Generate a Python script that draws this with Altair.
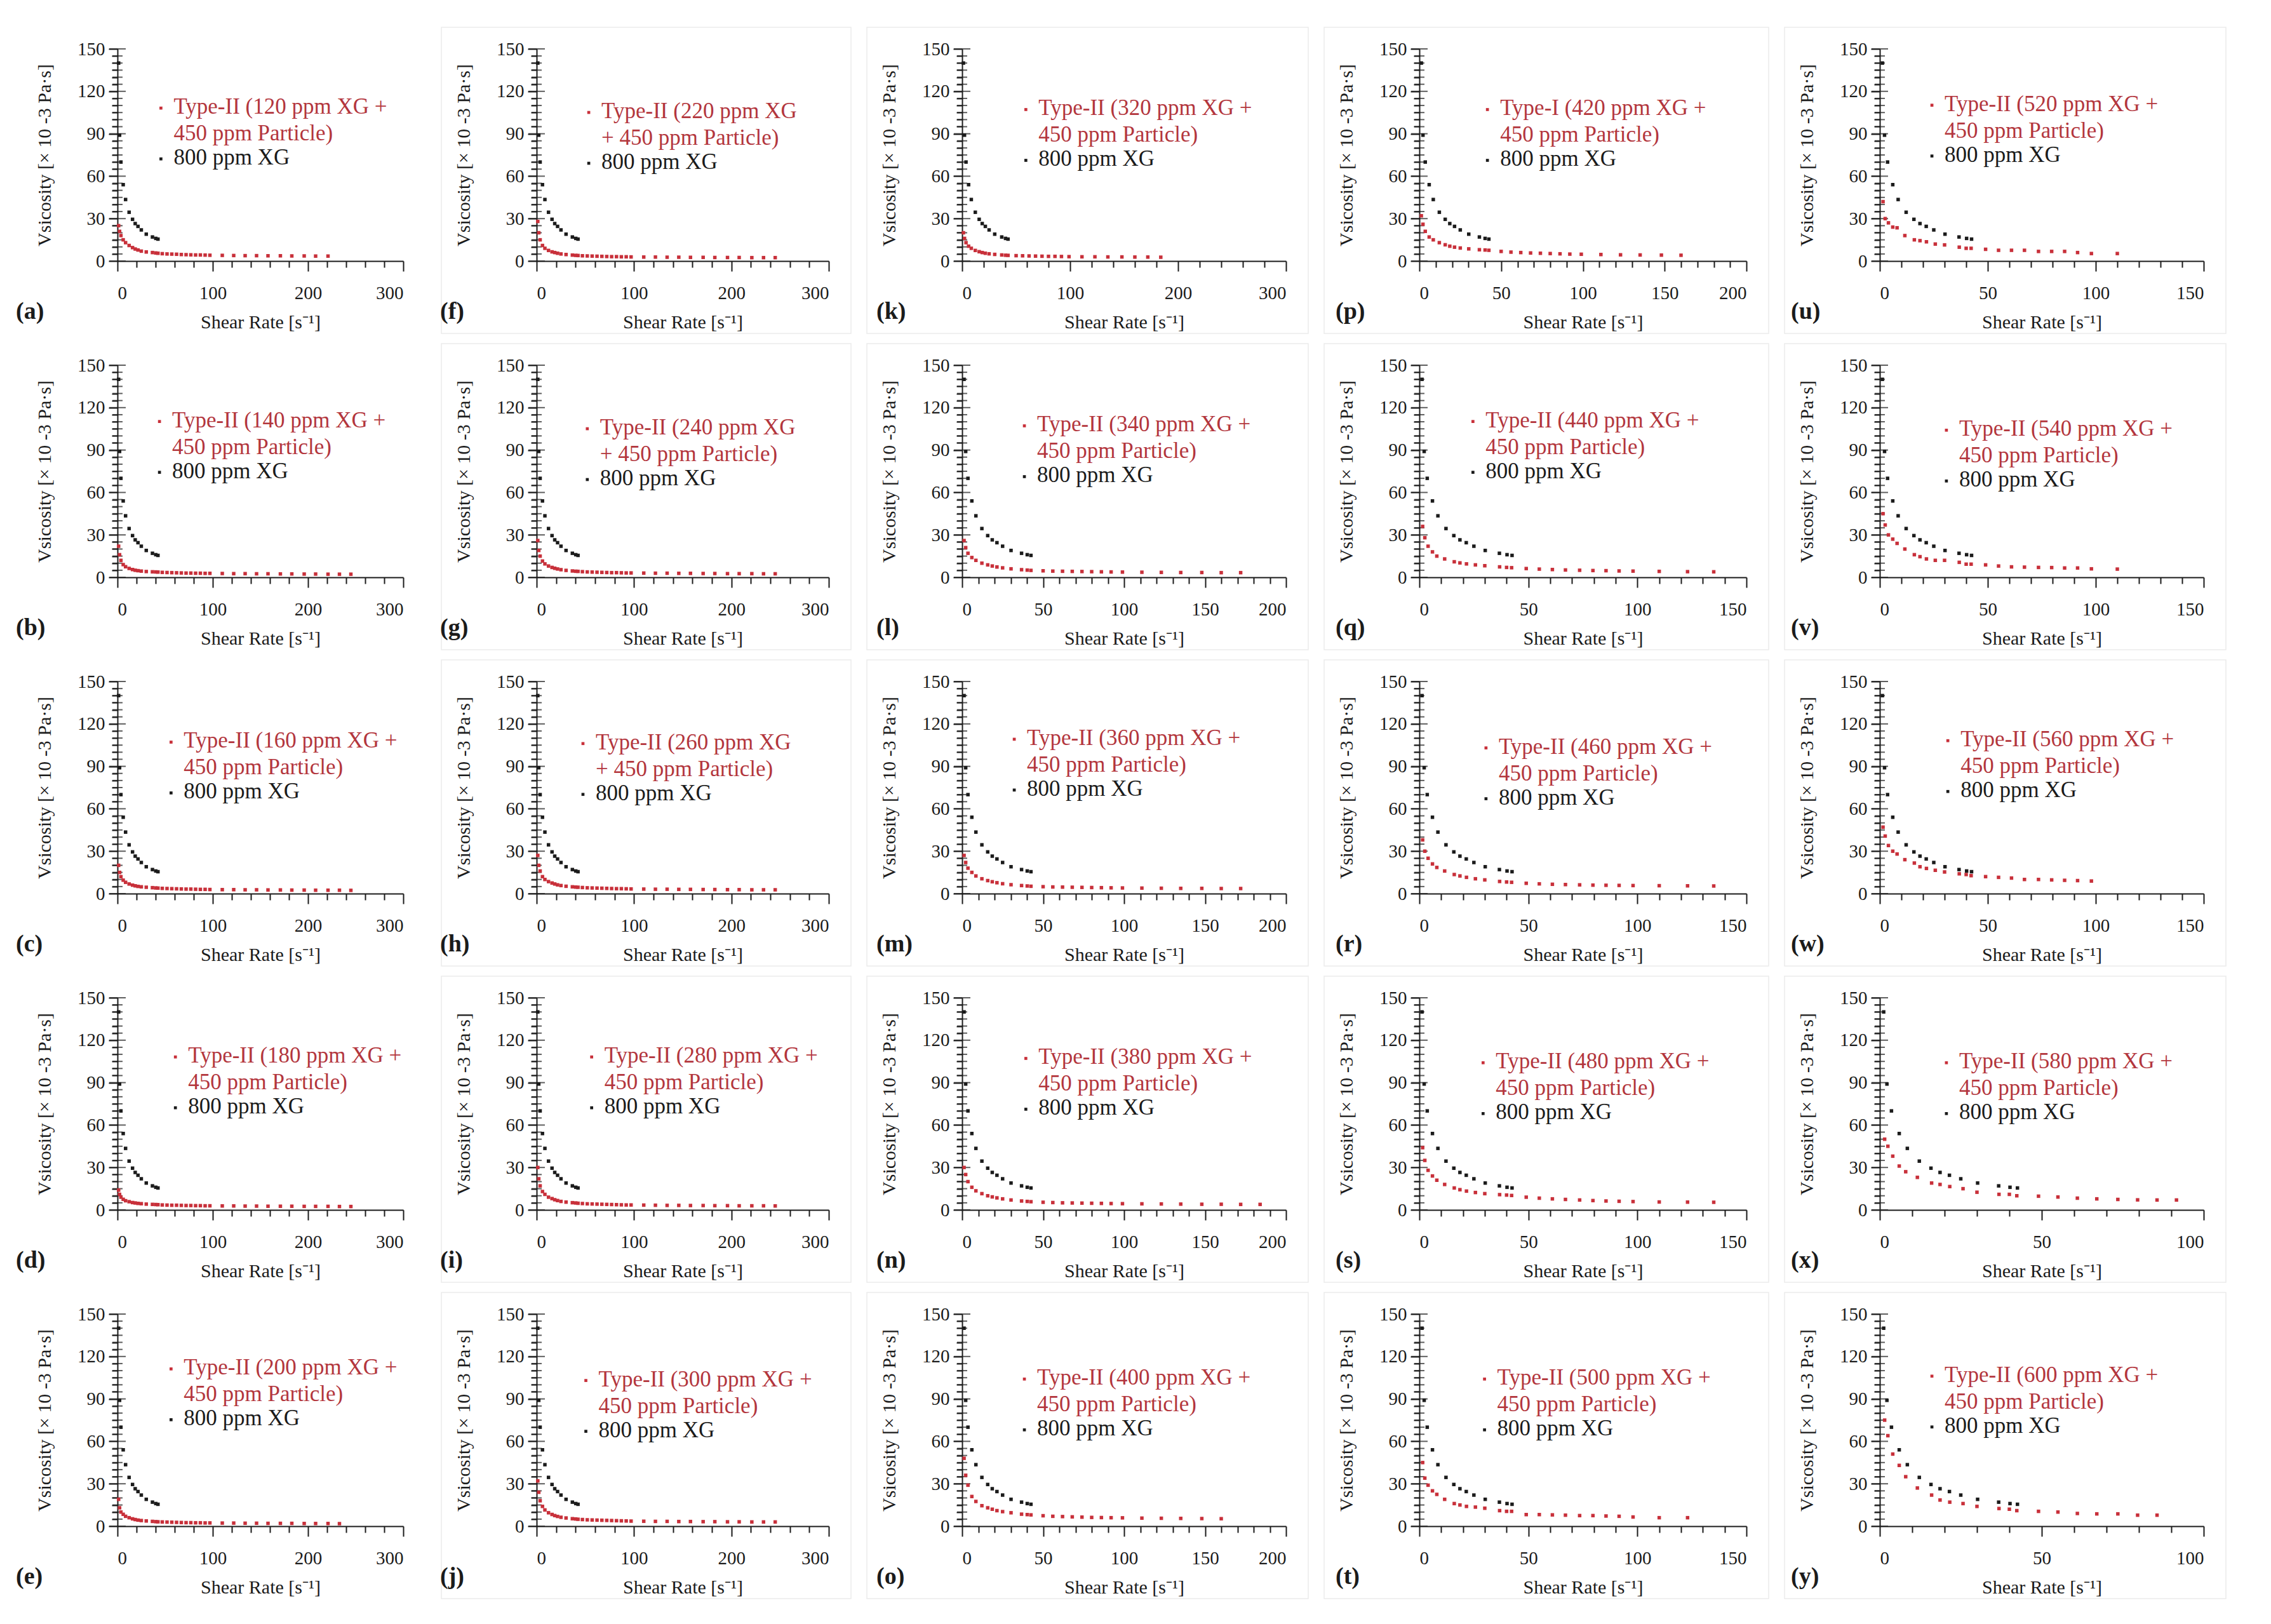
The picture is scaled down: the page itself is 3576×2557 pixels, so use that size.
import altair as alt
import pandas as pd

FONT = "Liberation Serif"
RED = "#c8303a"
RED_TXT = "#b3363d"
BLACK = "#1b1b1b"
FRAME = "#ebebeb"

LETTERS = list("abcdefghijklmnopqrstuvwxy")
XG_PPM = [120, 140, 160, 180, 200, 220, 240, 260, 280, 300, 320, 340, 360,
          380, 400, 420, 440, 460, 480, 500, 520, 540, 560, 580, 600]
X_MAX = [300, 300, 300, 300, 300, 300, 300, 300, 300, 300,
         300, 200, 200, 200, 200, 200, 150, 150, 150, 150,
         150, 150, 150, 100, 100]

# 800 ppm XG reference series (same in every panel)
SHEAR_800 = [1.2, 2.2, 3.6, 6.0, 8.5, 12.2, 15.8, 18.6, 21.5, 25.0, 30.2, 36.7, 40.2, 42.5]
VISC_800 = [140, 89, 70, 54, 43.5, 34.5, 29.5, 26.5, 24.5, 22.0, 19.0, 17.0, 16.0, 15.5]

# shear-rate grids of the Type-II series
GRID_A = [1.2, 2.2, 3.6, 6.0, 8.5, 12.2, 15.8, 18.6, 21.5, 25.0, 30.2, 36.7, 40.2, 42.5,
          47, 52, 57, 62, 67, 72, 77, 82, 87, 92, 97,
          110, 122, 134, 146, 158, 171, 183, 196, 208, 221, 233, 245, 256]
GRID_B = [1.2, 2.2, 3.6, 6.0, 8.5, 12.2, 15.8, 18.6, 21.5, 25.0, 30.2, 36.7, 40.2, 42.5,
          50, 56, 62, 68, 74, 80, 86, 92, 99, 111, 123, 135, 148, 160, 172, 184, 196]
GRID_C = [1.5, 2.5, 4, 6, 8, 11.6, 16, 18.6, 21.6, 25.7, 30, 36.8, 40, 42.3,
          49, 55, 61, 67, 73.5, 79.6, 85.6, 91.6, 98, 110, 123, 135]

V_A = [25, 21, 18, 15, 13, 11, 9.5, 8.5, 7.8, 7.0, 6.4, 6.0, 5.7, 5.5, 5.2, 5.0, 4.9, 4.8, 4.6, 4.5,
       4.4, 4.3, 4.3, 4.2, 4.1, 4.0, 3.9, 3.8, 3.8, 3.7, 3.7, 3.6, 3.6, 3.5, 3.5]
V_B = [22, 16, 12, 9, 7.5, 6.3, 5.5, 5.0, 4.7, 4.4, 4.1, 3.9, 3.8, 3.7, 3.5, 3.4, 3.3, 3.2, 3.1, 3.0,
       3.0, 2.9, 2.9, 2.8, 2.8, 2.7, 2.6, 2.6, 2.5, 2.5, 2.4, 2.4, 2.3, 2.3, 2.2, 2.2, 2.2]
V_C = [20, 15, 12, 9.5, 8, 6.8, 6.0, 5.5, 5.1, 4.8, 4.5, 4.2, 4.0, 3.9, 3.7, 3.6, 3.5, 3.4, 3.3, 3.2,
       3.2, 3.1, 3.0, 3.0, 2.9, 2.8, 2.8, 2.7, 2.7, 2.6, 2.6, 2.5, 2.5, 2.4, 2.4, 2.4, 2.3]
V_D = [14, 11, 9, 7.5, 6.5, 5.8, 5.2, 4.9, 4.6, 4.4, 4.1, 3.9, 3.8, 3.7, 3.5, 3.4, 3.3, 3.3, 3.2, 3.1,
       3.1, 3.0, 3.0, 2.9, 2.9, 2.8, 2.8, 2.7, 2.7, 2.6, 2.6, 2.6, 2.5, 2.5, 2.5, 2.4, 2.4]
V_E = [19, 13, 10, 8.4, 7, 6, 5.2, 4.7, 4.3, 4.0, 3.7, 3.4, 3.2, 3.1, 3.0, 2.9, 2.8, 2.7, 2.6, 2.5,
       2.5, 2.4, 2.4, 2.3, 2.3, 2.2, 2.2, 2.1, 2.1, 2.0, 2.0, 2.0, 1.9, 1.9, 1.9, 1.8]
V_F = [28, 20, 15, 11, 9, 7.5, 6.5, 6.0, 5.5, 5.0, 4.6, 4.2, 4.0, 3.9, 3.7, 3.6, 3.5, 3.4, 3.3, 3.2,
       3.1, 3.1, 3.0, 3.0, 2.9, 2.8, 2.8, 2.7, 2.7, 2.6, 2.6, 2.5, 2.5, 2.5, 2.4, 2.4, 2.4]
V_G = [26, 19, 15, 11.5, 9.5, 8, 7, 6.4, 5.9, 5.4, 4.9, 4.5, 4.3, 4.2, 4.0, 3.8, 3.7, 3.6, 3.5, 3.4,
       3.3, 3.3, 3.2, 3.1, 3.1, 3.0, 2.9, 2.9, 2.8, 2.8, 2.7, 2.7, 2.6, 2.6, 2.6, 2.5, 2.5]
V_H = [27, 20, 16, 12, 10, 8.5, 7.5, 6.8, 6.2, 5.7, 5.2, 4.8, 4.6, 4.5, 4.3, 4.1, 4.0, 3.9, 3.8, 3.7,
       3.6, 3.5, 3.5, 3.4, 3.3, 3.2, 3.1, 3.1, 3.0, 3.0, 2.9, 2.9, 2.8, 2.8, 2.7, 2.7, 2.7]
V_I = [30, 22, 17, 13, 11, 9, 8, 7.2, 6.6, 6.0, 5.5, 5.1, 4.9, 4.7, 4.5, 4.3, 4.2, 4.1, 4.0, 3.9,
       3.8, 3.7, 3.6, 3.5, 3.5, 3.4, 3.3, 3.2, 3.2, 3.1, 3.1, 3.0, 3.0, 2.9, 2.9, 2.9, 2.8]
V_J = [32, 24, 18, 14, 11.5, 9.5, 8.3, 7.5, 6.9, 6.3, 5.8, 5.3, 5.1, 4.9, 4.7, 4.5, 4.4, 4.3, 4.2, 4.1,
       4.0, 3.9, 3.8, 3.7, 3.6, 3.5, 3.4, 3.4, 3.3, 3.3, 3.2, 3.2, 3.1, 3.1, 3.0, 3.0, 3.0]
V_K = [20, 16, 13, 10.5, 9, 7.5, 6.6, 6.0, 5.5, 5.1, 4.7, 4.3, 4.1, 4.0, 3.8, 3.7, 3.6, 3.5, 3.4, 3.3,
       3.3, 3.2, 3.1, 3.0, 3.0, 2.9, 2.9, 2.8, 2.8, 2.7]
V_L = [26, 21, 17, 14, 12, 10, 8.8, 8.0, 7.3, 6.7, 6.0, 5.4, 5.1, 4.9, 4.6, 4.4, 4.3, 4.2, 4.1, 4.0,
       3.9, 3.8, 3.7, 3.6, 3.5, 3.4, 3.4, 3.3, 3.3]
V_M = [27, 22, 18, 15, 12.5, 10.5, 9.2, 8.4, 7.7, 7.0, 6.3, 5.7, 5.4, 5.2, 4.9, 4.7, 4.6, 4.5, 4.4, 4.3,
       4.2, 4.1, 4.0, 3.9, 3.8, 3.7, 3.7, 3.6, 3.6]
V_N = [30, 25, 20, 16, 13.5, 11.5, 10, 9.2, 8.5, 7.8, 7.0, 6.3, 6.0, 5.8, 5.4, 5.2, 5.0, 4.9, 4.8, 4.7,
       4.6, 4.5, 4.4, 4.3, 4.2, 4.1, 4.0, 4.0, 3.9, 3.9]
V_O = [48, 36, 29, 21, 17.5, 14.5, 13, 12, 11, 10.3, 9.5, 8.5, 8.2, 8.0, 7.4, 7.0, 6.8, 6.6, 6.4, 6.2,
       6.1, 6.0, 5.9, 5.7, 5.6, 5.5, 5.4, 5.3]
V_P = [32, 26, 21, 17, 15, 13, 11.5, 10.5, 9.8, 9.2, 8.6, 8.0, 7.8, 7.6, 6.8, 6.3, 6.0, 5.7, 5.5, 5.3,
       5.1, 4.9, 4.8, 4.6, 4.4, 4.3, 4.2, 4.1]
V_Q = [36, 28, 22, 18, 15, 13, 11, 10.2, 9.5, 8.8, 8.2, 7.4, 7.0, 6.8, 6.2, 5.8, 5.5, 5.2, 5.0, 4.8,
       4.7, 4.5, 4.4, 4.2, 4.0, 3.9]
V_R = [38, 30, 25, 21, 18.5, 16, 13.5, 12.5, 11.5, 10.5, 9.7, 8.6, 8.2, 8.0, 7.3, 6.9, 6.6, 6.4, 6.2, 6.0,
       5.9, 5.8, 5.7, 5.6, 5.5, 5.4]
V_S = [44, 35, 28, 24, 21, 18, 15.5, 14.3, 13.3, 12.3, 11.5, 10.8, 10.5, 10.2, 9.0, 8.3, 7.8, 7.4, 7.0, 6.6,
       6.3, 6.1, 5.9, 5.6, 5.5, 5.4]
V_T = [45, 34, 29, 25, 22.5, 19, 16, 15, 14, 13.5, 12.7, 11, 10.5, 10.5, 8.2, 8.2, 8.0, 7.8, 7.5, 7.5,
       7.2, 7.0, 6.5, 6.0, 6.0]
V_U = [42, 30, 27, 24, 23.5, 18, 15, 14.4, 13.6, 12, 11.4, 9.8, 9, 9, 8.3, 7.6, 7.6, 7.6, 6.8, 6.8,
       6.8, 6.0, 5.3, 5.3]
V_V = [45, 37, 30, 27, 24, 20, 16, 14.6, 13, 12, 12, 10.6, 9.3, 9.3, 8.8, 8.0, 7.4, 7.2, 7.0, 6.9,
       6.6, 6.6, 6.0, 5.8]
V_W = [47, 40.7, 34, 30, 28, 24, 21.6, 19, 17.8, 16.5, 15.3, 14, 13.5, 12.7, 12, 11.5, 11, 10, 10, 9.7,
       9.4, 9.2, 8.9]
V_X = [50, 45, 38, 31, 27, 23, 19, 18, 16.5, 15, 12.5, 11, 11, 10, 9.7, 9.1, 8.3, 7.8, 7.4, 7.1,
       7.0, 7.0]
V_Y = [75, 64, 51, 43, 35, 27, 22, 18.5, 17, 16, 14, 12.5, 12, 11, 10.5, 10, 9, 8.7, 8.7, 7.8, 7.8]

RED_VALUES = [V_A, V_B, V_C, V_D, V_E, V_F, V_G, V_H, V_I, V_J, V_K, V_L, V_M,
              V_N, V_O, V_P, V_Q, V_R, V_S, V_T, V_U, V_V, V_W, V_X, V_Y]
RED_GRID = [GRID_A] * 10 + [GRID_B] * 6 + [GRID_C] * 9

# y-axis tick positions (ticks cross the axis line)
Y_TICKS = list(range(0, 151, 5))

# layout (pixels, not data)
COL_W = [450, 460, 510, 515, 510]
PANEL_H = 334
LABEL_DX = [-160, -152, -135, -132, -140]
LEG_DX = [30, 29, 37, 40, 37, 36, 35, 32, 38, 34, 44, 43, 36, 44, 43,
          47, 37, 46, 44, 45, 36, 46, 47, 46, 36]
LEG_DY = [40, 38, 41, 40, 37, 43, 43, 42, 40, 45, 41, 41, 39, 41, 44,
          41, 38, 45, 44, 44, 38, 44, 40, 44, 42]
SC = 2.28


def legend_lines(i):
    ppm = XG_PPM[i]
    kind = "Type-I" if LETTERS[i] == "p" else "Type-II"
    if LETTERS[i] in ("f", "g", "h"):
        return f"{kind} ({ppm} ppm XG", "+ 450 ppm Particle)"
    return f"{kind} ({ppm} ppm XG +", "450 ppm Particle)"


one = pd.DataFrame({"k": [0]})
ytick_df = pd.DataFrame({"y": Y_TICKS, "major": [v % 30 == 0 for v in Y_TICKS]})
AX = dict(grid=False, domainColor=BLACK, domainWidth=2, tickColor=BLACK, tickWidth=2,
          labelFont=FONT, titleFont=FONT, labelFontSize=29, titleFontSize=30,
          labelColor=BLACK, titleColor=BLACK, titleFontWeight="normal")
YAXIS = alt.Axis(
    values=Y_TICKS,
    labelExpr="datum.value % 30 === 0 ? datum.label : ''",
    tickSize={"condition": {"test": "datum.value % 30 === 0", "value": 14}, "value": 9},
    title="Vsicosity [× 10 -3 Pa·s]", labelPadding=6, titlePadding=36, **AX,
)
YSCALE = alt.Scale(domain=[0, 150], nice=False)


def panel(i):
    col = i // 5
    w = COL_W[col]
    xmax = X_MAX[i]
    step = 20 if xmax == 300 else 10
    major = 100 if xmax == 300 else 50
    xs = RED_GRID[i][:len(RED_VALUES[i])]
    df = pd.concat([
        pd.DataFrame({"x": xs, "y": RED_VALUES[i], "s": "red"}),
        pd.DataFrame({"x": SHEAR_800, "y": VISC_800, "s": "black"}),
    ])
    xaxis = alt.Axis(
        values=list(range(0, xmax + 1, step)),
        labelExpr=f"datum.value % {major} === 0 ? datum.label : ''",
        tickSize={"condition": {"test": f"datum.value % {major} === 0", "value": 16}, "value": 10},
        title="Shear Rate [s⁻¹]", labelPadding=20, titlePadding=16, **AX,
    )
    pts = alt.Chart(df).mark_square(size=30, opacity=1).encode(
        x=alt.X("x:Q", scale=alt.Scale(domain=[0, xmax], nice=False, zero=True), axis=xaxis),
        y=alt.Y("y:Q", scale=YSCALE, axis=YAXIS),
        color=alt.Color("s:N", scale=alt.Scale(domain=["red", "black"], range=[RED, BLACK]), legend=None),
    )
    inner = alt.Chart(ytick_df).mark_tick(color=BLACK, thickness=2, orient="horizontal").encode(
        y=alt.Y("y:Q", scale=YSCALE, axis=YAXIS),
        x=alt.value(0),
        size=alt.condition("datum.major", alt.value(26), alt.value(16)),
    )
    layers = []
    if col > 0:
        layers.append(alt.Chart(one).mark_rect(fillOpacity=0, stroke=FRAME, strokeWidth=1.5).encode(
            x=alt.value(-150), x2=alt.value(w + 35), y=alt.value(-34), y2=alt.value(PANEL_H + 114)))
    layers += [inner, pts]
    l1, l2 = legend_lines(i)
    mx = LEG_DX[i] * SC
    ty = LEG_DY[i] * SC
    tx = mx + 20
    for txt, yy, c in [(l1, ty, RED_TXT), (l2, ty + 42, RED_TXT), ("800 ppm XG", ty + 80, BLACK)]:
        layers.append(alt.Chart(one).mark_text(text=txt, align="left", baseline="middle", font=FONT,
                                               fontSize=35, color=c).encode(x=alt.value(tx), y=alt.value(yy)))
    for yy, c in [(ty, RED), (ty + 80, BLACK)]:
        layers.append(alt.Chart(one).mark_square(size=22, color=c, opacity=1).encode(
            x=alt.value(mx), y=alt.value(yy + 2)))
    layers.append(alt.Chart(one).mark_text(text=f"({LETTERS[i]})", align="left", baseline="middle",
                                           font=FONT, fontSize=38, fontWeight="bold", color=BLACK)
                  .encode(x=alt.value(LABEL_DX[col]), y=alt.value(PANEL_H + 80)))
    return alt.layer(*layers).properties(width=w, height=PANEL_H)


panels = [panel(i) for i in range(25)]
ordered = [panels[c * 5 + r] for r in range(5) for c in range(5)]

chart = alt.concat(*ordered, columns=5, spacing={"row": 164, "column": 210},
                   bounds="flush").properties(
    padding={"left": 17, "top": 34, "right": 5, "bottom": 5},
    background="white",
).configure_view(stroke=None)

chart.save("out.html", embed_options={"renderer": "svg", "actions": False})
